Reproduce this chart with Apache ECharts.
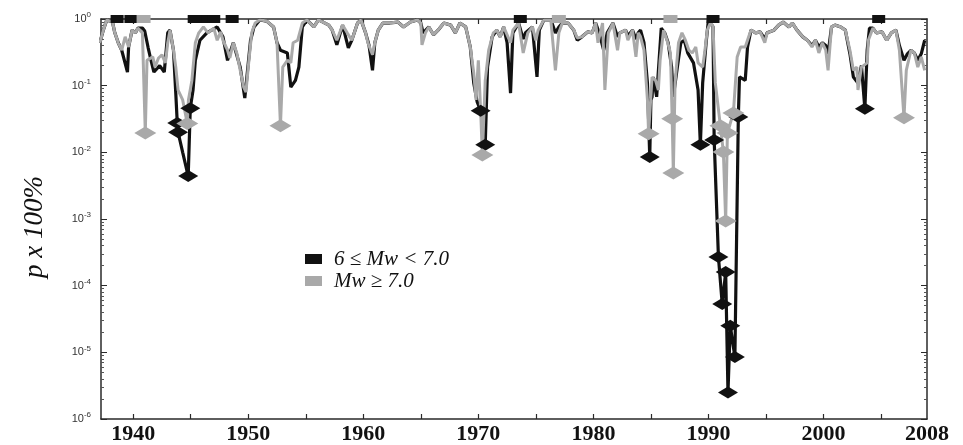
<!DOCTYPE html>
<html>
<head>
<meta charset="utf-8">
<script src="https://cdn.jsdelivr.net/npm/echarts@6/dist/echarts.min.js"></script>
<style>
html,body{margin:0;padding:0;background:#fff;}
#chart{width:963px;height:445px;}
</style>
</head>
<body>
<div id="chart"></div>
<script>
// ---------- DATA ----------
const grayYears = [1937.1,1937.4,1937.7,1938.2,1938.4,1938.7,1939.0,1939.3,1939.6,1939.9,1940.2,1940.4,1940.8,1941.05,1941.2,1941.7,1941.9,1942.2,1942.5,1942.8,1943.0,1943.2,1943.5,1943.7,1943.9,1944.3,1944.7,1944.8,1945.1,1945.4,1945.7,1946.1,1946.5,1947.0,1947.3,1947.6,1947.8,1948.2,1948.4,1948.7,1949.0,1949.3,1949.6,1949.8,1950.0,1950.3,1950.6,1951.0,1951.6,1952.2,1952.5,1952.8,1953.0,1953.4,1953.7,1953.9,1954.3,1954.7,1955.1,1955.7,1956.1,1956.5,1957.0,1957.3,1957.7,1958.2,1958.6,1959.0,1959.5,1959.8,1960.2,1960.4,1960.8,1961.0,1961.3,1961.7,1962.3,1963.0,1963.5,1964.1,1964.7,1965.0,1965.1,1965.4,1965.7,1966.1,1966.5,1967.0,1967.6,1968.0,1968.4,1968.9,1969.3,1969.6,1969.8,1970.0,1970.2,1970.35,1970.6,1970.9,1971.3,1971.6,1971.9,1972.2,1972.8,1973.0,1973.5,1973.9,1974.3,1974.7,1975.0,1975.2,1975.7,1976.3,1976.7,1977.0,1977.3,1977.8,1978.3,1978.6,1979.0,1979.5,1979.9,1980.2,1980.4,1980.8,1981.0,1981.3,1981.7,1982.1,1982.3,1982.8,1983.0,1983.4,1983.7,1983.9,1984.1,1984.4,1984.7,1984.8,1985.1,1985.4,1985.65,1985.8,1986.1,1986.4,1986.7,1986.85,1986.95,1987.1,1987.4,1987.7,1988.0,1988.3,1988.6,1988.9,1989.1,1989.5,1989.7,1989.9,1990.2,1990.4,1990.6,1991.04,1991.3,1991.5,1991.65,1992.17,1992.5,1992.8,1993.2,1993.5,1993.7,1994.1,1994.5,1994.9,1995.1,1995.7,1996.1,1996.5,1997.0,1997.3,1997.7,1998.2,1998.6,1999.0,1999.3,1999.6,1999.9,2000.2,2000.4,2000.7,2001.0,2001.5,2001.9,2002.3,2002.6,2002.9,2003.0,2003.3,2003.8,2003.9,2004.3,2004.6,2005.1,2005.5,2005.9,2006.3,2006.6,2007.0,2007.2,2007.6,2007.9,2008.2,2008.5,2008.8];
const grayP = [0.44,0.68,0.97,0.90,0.62,0.44,0.34,0.54,0.38,0.68,0.62,0.73,0.62,0.0195,0.24,0.27,0.19,0.26,0.29,0.22,0.44,0.68,0.34,0.19,0.086,0.061,0.027,0.061,0.12,0.44,0.62,0.76,0.62,0.73,0.48,0.64,0.48,0.34,0.26,0.44,0.31,0.17,0.095,0.08,0.19,0.62,0.87,0.97,0.93,0.76,0.44,0.025,0.19,0.24,0.22,0.44,0.48,0.87,0.97,0.76,0.97,0.90,0.81,0.68,0.48,0.81,0.62,0.48,0.87,0.97,0.62,0.44,0.29,0.44,0.68,0.87,0.87,0.90,0.76,0.90,0.97,0.87,0.41,0.62,0.76,0.58,0.68,0.87,0.81,0.62,0.87,0.76,0.38,0.155,0.061,0.24,0.043,0.0091,0.12,0.34,0.62,0.68,0.54,0.76,0.44,0.68,0.87,0.31,0.62,0.76,0.48,0.68,0.97,0.97,0.17,0.62,0.87,0.87,0.68,0.52,0.54,0.64,0.62,0.87,0.44,0.87,0.086,0.62,0.87,0.34,0.62,0.68,0.48,0.68,0.27,0.62,0.54,0.34,0.061,0.019,0.135,0.12,0.086,0.24,0.68,0.48,0.31,0.032,0.0049,0.11,0.44,0.62,0.48,0.34,0.31,0.38,0.22,0.19,0.34,0.68,0.90,0.76,0.11,0.025,0.0101,0.00093,0.0195,0.039,0.27,0.38,0.38,0.54,0.68,0.62,0.64,0.44,0.62,0.68,0.81,0.90,0.76,0.87,0.68,0.54,0.48,0.38,0.48,0.31,0.44,0.34,0.17,0.76,0.81,0.76,0.68,0.34,0.17,0.19,0.086,0.19,0.22,0.48,0.73,0.62,0.64,0.48,0.62,0.68,0.34,0.033,0.17,0.34,0.31,0.19,0.27,0.17];

const blackYears = [1937.1,1937.4,1937.7,1938.2,1938.4,1938.7,1939.0,1939.5,1939.6,1939.9,1940.2,1940.4,1940.8,1941.0,1941.3,1941.5,1941.8,1942.3,1942.7,1943.0,1943.2,1943.5,1943.7,1943.83,1943.9,1944.3,1944.78,1944.96,1945.2,1945.4,1945.8,1946.4,1947.3,1947.8,1948.2,1948.7,1949.3,1949.7,1950.2,1950.5,1951.0,1951.6,1952.2,1952.5,1952.8,1953.4,1953.7,1954.1,1954.4,1954.7,1955.1,1955.7,1956.1,1956.5,1957.0,1957.3,1957.7,1958.2,1958.7,1959.0,1959.5,1959.8,1960.2,1960.5,1960.8,1961.0,1961.3,1961.7,1962.3,1963.0,1963.5,1964.1,1964.7,1965.0,1965.2,1965.7,1966.1,1966.5,1967.0,1967.6,1968.0,1968.4,1968.9,1969.3,1969.6,1969.9,1970.2,1970.6,1970.8,1971.2,1971.6,1971.9,1972.2,1972.5,1972.8,1973.0,1973.5,1973.9,1974.1,1974.7,1975.1,1975.3,1975.7,1976.3,1976.7,1977.0,1977.3,1977.8,1978.3,1978.6,1979.0,1979.5,1979.9,1980.2,1980.5,1980.9,1981.2,1981.7,1982.1,1982.3,1982.8,1983.0,1983.4,1983.7,1983.9,1984.1,1984.4,1984.7,1984.9,1985.0,1985.1,1985.2,1985.5,1985.9,1986.2,1986.5,1986.8,1986.95,1987.3,1987.6,1987.9,1988.2,1988.7,1989.1,1989.3,1989.5,1989.8,1990.0,1990.4,1990.5,1990.87,1991.2,1991.5,1991.7,1991.9,1992.3,1992.6,1992.7,1993.2,1993.4,1993.7,1994.1,1994.5,1994.9,1995.1,1995.7,1996.1,1996.5,1997.0,1997.3,1997.7,1998.2,1998.6,1999.0,1999.3,1999.6,1999.9,2000.2,2000.4,2000.7,2001.0,2001.5,2001.9,2002.3,2002.6,2003.0,2003.3,2003.6,2003.8,2004.0,2004.3,2004.6,2005.1,2005.5,2005.9,2006.3,2006.6,2007.0,2007.3,2007.6,2007.9,2008.2,2008.5,2008.8];
const blackP = [0.44,0.68,0.97,0.90,0.62,0.44,0.34,0.16,0.38,0.68,0.62,0.73,0.73,0.66,0.37,0.26,0.16,0.20,0.16,0.62,0.68,0.34,0.077,0.0275,0.020,0.01,0.0044,0.046,0.086,0.24,0.48,0.62,0.76,0.54,0.24,0.44,0.19,0.065,0.48,0.76,0.97,0.93,0.76,0.44,0.34,0.31,0.095,0.12,0.19,0.76,0.97,0.76,0.97,0.90,0.81,0.68,0.41,0.81,0.37,0.48,0.87,0.97,0.62,0.40,0.17,0.44,0.68,0.87,0.87,0.90,0.76,0.90,0.97,0.87,0.62,0.76,0.58,0.68,0.87,0.81,0.62,0.87,0.76,0.38,0.11,0.057,0.042,0.013,0.19,0.54,0.68,0.54,0.76,0.44,0.077,0.62,0.87,0.50,0.62,0.76,0.135,0.68,0.97,0.97,0.62,0.76,0.87,0.87,0.68,0.48,0.54,0.64,0.62,0.87,0.62,0.34,0.62,0.87,0.54,0.62,0.68,0.56,0.68,0.50,0.62,0.68,0.44,0.11,0.0085,0.061,0.068,0.135,0.068,0.73,0.62,0.44,0.19,0.068,0.19,0.44,0.48,0.31,0.22,0.086,0.013,0.11,0.44,0.97,0.76,0.0153,0.00027,0.000053,0.00016,0.0000025,0.000025,0.0000085,0.034,0.135,0.12,0.38,0.68,0.62,0.64,0.50,0.62,0.68,0.81,0.90,0.76,0.87,0.68,0.54,0.48,0.40,0.48,0.38,0.44,0.40,0.30,0.76,0.81,0.76,0.68,0.30,0.135,0.11,0.20,0.045,0.34,0.73,0.73,0.62,0.64,0.48,0.62,0.68,0.40,0.24,0.30,0.34,0.31,0.24,0.30,0.48];

// event markers (diamonds)
const blackEventYears = [1943.83,1943.9,1944.78,1944.96,1970.2,1970.6,1984.9,1989.3,1990.5,1990.87,1991.2,1991.5,1991.7,1991.9,1992.3,1992.6,2003.6];
const blackEventP = [0.0275,0.020,0.0044,0.046,0.042,0.013,0.0085,0.013,0.0153,0.00027,0.000053,0.00016,0.0000025,0.000025,0.0000085,0.034,0.045];
const grayEventYears = [1941.05,1944.7,1952.8,1970.35,1984.8,1986.85,1986.95,1991.04,1991.3,1991.5,1991.65,1992.17,2007.0];
const grayEventP = [0.0195,0.027,0.025,0.0091,0.019,0.032,0.0049,0.025,0.0101,0.00093,0.0195,0.039,0.033];

// earthquake occurrence squares along the top (p = 1)
const blackTopYears = [1938.6,1939.8,1945.3,1945.9,1946.5,1947.0,1948.6,1973.65,1990.4,2004.8];
const grayTopYears = [1940.9,1977.0,1986.7];
const topP = 1;

// axis ticks / labels
const xTickYears = [1940,1945,1950,1955,1960,1965,1970,1975,1980,1985,1990,1995,2000,2005];
const xLabelYears = [1940,1950,1960,1970,1980,1990,2000,2009];
const xLabelText = ['1940','1950','1960','1970','1980','1990','2000','2008'];
const xMin = 1937.2, xMax = 2009;

const nameBlack = '6 \u2264 Mw < 7.0';
const nameGray = 'Mw \u2265 7.0';

// ---------- CHART ----------
const zip = (a, b) => a.map((v, i) => [v, b[i]]);
const BLACK = '#111111', GRAY = '#a9a9a9', AXIS = '#2a2a2a';

const chart = echarts.init(document.getElementById('chart'), null, {renderer: 'canvas'});

const xBase = {
  type: 'value', min: xMin, max: xMax,
  axisLine: {show: true, lineStyle: {color: AXIS, width: 1.5}},
  axisTick: {show: true, inside: true, length: 5, customValues: xTickYears, lineStyle: {color: AXIS, width: 1.2}},
  splitLine: {show: false}
};
const yBase = {
  type: 'log', logBase: 10, min: 1e-6, max: 1, interval: 1, splitNumber: 6,
  axisLine: {show: true, lineStyle: {color: AXIS, width: 1.5}},
  axisTick: {show: true, inside: true, length: 6, lineStyle: {color: AXIS}},
  minorTick: {show: true, splitNumber: 9, length: 3, lineStyle: {color: '#555'}},
  splitLine: {show: false}, minorSplitLine: {show: false}
};

chart.setOption({
  animation: false,
  backgroundColor: '#ffffff',
  grid: {left: 101, top: 19, width: 826, height: 400, containLabel: false},
  xAxis: [
    Object.assign({}, xBase, {
      position: 'bottom',
      axisLabel: {
        show: true, customValues: xLabelYears,
        formatter: v => { const i = xLabelYears.indexOf(Math.round(v)); return i >= 0 ? xLabelText[i] : ''; },
        fontFamily: 'Liberation Serif', fontWeight: 'bold', fontSize: 22, color: '#111', margin: 4
      }
    }),
    Object.assign({}, xBase, {position: 'top', axisLabel: {show: false}})
  ],
  yAxis: [
    Object.assign({}, yBase, {
      position: 'left',
      axisLabel: {
        show: true, margin: 10,
        formatter: v => '{b|10}{s|' + Math.round(Math.log10(v)) + '}',
        rich: {
          b: {fontFamily: 'Liberation Sans', fontSize: 11, color: '#333'},
          s: {fontFamily: 'Liberation Sans', fontSize: 8, color: '#333', padding: [0, 0, 8, 0]}
        }
      }
    }),
    Object.assign({}, yBase, {position: 'right', axisLabel: {show: false}})
  ],
  legend: {
    orient: 'vertical', left: 300, top: 243, itemWidth: 17, itemHeight: 10, itemGap: 0,
    icon: 'rect', selectedMode: false,
    textStyle: {fontFamily: 'Liberation Serif', fontStyle: 'italic', fontSize: 21, color: '#111', lineHeight: 22, padding: [0, 0, 0, 7]},
    data: [nameBlack, nameGray]
  },
  graphic: [{
    type: 'text', x: 35, y: 227, rotation: Math.PI / 2,
    style: {text: 'p x 100%', font: 'italic 27px "Liberation Serif"', fill: '#111', align: 'center', verticalAlign: 'middle'}
  }],
  series: [
    {name: nameBlack, type: 'line', data: zip(blackYears, blackP), showSymbol: false, symbol: 'none',
     lineStyle: {color: BLACK, width: 3.2}, itemStyle: {color: BLACK}, z: 2},
    {name: nameGray, type: 'line', data: zip(grayYears, grayP), showSymbol: false, symbol: 'none',
     lineStyle: {color: GRAY, width: 3}, itemStyle: {color: GRAY}, z: 3},
    {name: 'black events', type: 'scatter', data: zip(blackEventYears, blackEventP), symbol: 'diamond',
     symbolSize: [20, 12], itemStyle: {color: BLACK, opacity: 1}, z: 4, clip: false},
    {name: 'gray events', type: 'scatter', data: zip(grayEventYears, grayEventP), symbol: 'diamond',
     symbolSize: [22, 13], itemStyle: {color: GRAY, opacity: 1}, z: 5, clip: false},
    {name: 'black top', type: 'scatter', data: blackTopYears.map(y => [y, topP]), symbol: 'rect',
     symbolSize: [13, 8], itemStyle: {color: BLACK, opacity: 1}, z: 6, clip: false},
    {name: 'gray top', type: 'scatter', data: grayTopYears.map(y => [y, topP]), symbol: 'rect',
     symbolSize: [14, 8], itemStyle: {color: GRAY, opacity: 1}, z: 6, clip: false}
  ]
});
</script>
</body>
</html>
